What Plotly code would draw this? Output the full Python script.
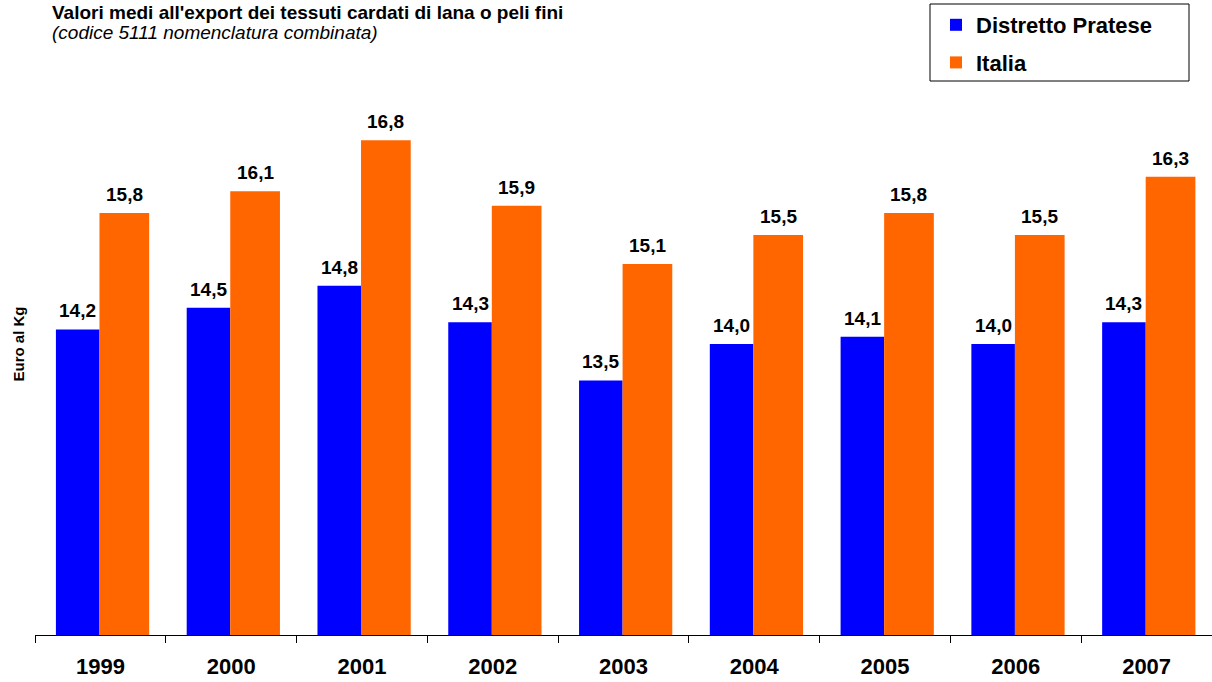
import plotly.graph_objects as go

# Average export values of carded wool fabrics (Euro per kg)
anni = ["1999", "2000", "2001", "2002", "2003", "2004", "2005", "2006", "2007"]
distretto_pratese = [14.2, 14.5, 14.8, 14.3, 13.5, 14.0, 14.1, 14.0, 14.3]
italia = [15.8, 16.1, 16.8, 15.9, 15.1, 15.5, 15.8, 15.5, 16.3]

FONT = "Liberation Sans, Arial, sans-serif"
BLU = "#0000FF"
ARANCIO = "#FF6600"

# bar placement inside each category slot (fractions of the slot)
OFF_BLU, W_BLU = -0.34, 0.333
OFF_ARA, W_ARA = -0.007, 0.38

W, H = 1212, 682
ML, MR, MT, MB = 35, 0, 53, 47
PW, PH = W - ML - MR, H - MT - MB


def px_x(v):
    """pixel column -> paper x"""
    return (v - ML) / PW


def px_y(v):
    """pixel row -> paper y"""
    return (H - MB - v) / PH


fig = go.Figure()
fig.add_trace(go.Bar(
    x=anni, y=distretto_pratese, name="Distretto Pratese",
    marker=dict(color=BLU, line=dict(width=0)),
    offset=OFF_BLU, width=W_BLU, legendgroup="a",
))
fig.add_trace(go.Bar(
    x=anni, y=italia, name="Italia",
    marker=dict(color=ARANCIO, line=dict(width=0)),
    offset=OFF_ARA, width=W_ARA, legendgroup="b",
))

annotations = []
for i, (b, o) in enumerate(zip(distretto_pratese, italia)):
    for val, off, w in ((b, OFF_BLU, W_BLU), (o, OFF_ARA, W_ARA)):
        annotations.append(dict(
            x=i + off + w / 2, y=val, xref="x", yref="y",
            text=f"<b>{val:.1f}</b>".replace(".", ","),
            showarrow=False, yanchor="bottom", xanchor="center", yshift=6,
            font=dict(family=FONT, size=19, color="black"),
        ))

# title and subtitle
annotations.append(dict(
    x=px_x(50), y=px_y(25), xref="paper", yref="paper",
    text="<b>Valori medi all'export dei tessuti cardati di lana o peli fini</b>",
    showarrow=False, xanchor="left", yanchor="bottom",
    font=dict(family=FONT, size=19, color="black"),
))
annotations.append(dict(
    x=px_x(50), y=px_y(45), xref="paper", yref="paper",
    text="<i>(codice 5111 nomenclatura combinata)</i>",
    showarrow=False, xanchor="left", yanchor="bottom",
    font=dict(family=FONT, size=19, color="black"),
))
# y-axis caption
annotations.append(dict(
    x=px_x(17.5), y=0.5, xref="paper", yref="paper",
    text="<b>Euro al Kg</b>", textangle=-90,
    showarrow=False, xanchor="center", yanchor="middle",
    font=dict(family=FONT, size=15, color="black"),
))

fig.update_layout(
    width=W, height=H,
    margin=dict(l=ML, r=MR, t=MT, b=MB),
    paper_bgcolor="white", plot_bgcolor="white",
    barmode="overlay",
    showlegend=True,
    legend=dict(
        x=px_x(936), y=px_y(4), xanchor="left", yanchor="top",
        font=dict(family=FONT, size=22, color="black", weight="bold"),
        bgcolor="rgba(0,0,0,0)", borderwidth=0,
        tracegroupgap=6, itemwidth=30,
    ),
    shapes=[dict(
        type="rect", xref="paper", yref="paper",
        x0=px_x(930), x1=px_x(1189), y0=px_y(81), y1=px_y(4),
        line=dict(color="black", width=1), fillcolor="white", layer="below",
    )],
    xaxis=dict(
        type="category", range=[-0.5, 8.5],
        showline=True, linecolor="black", linewidth=1,
        ticks="outside", tickson="boundaries", ticklen=7, tickcolor="black",
        ticklabelstandoff=12,
        showgrid=False, zeroline=False,
        tickfont=dict(family=FONT, size=22, color="black", weight="bold"),
    ),
    yaxis=dict(
        range=[10, 18], visible=False, showgrid=False, zeroline=False,
    ),
    annotations=annotations,
    font=dict(family=FONT),
)

fig.write_html("out.html")
